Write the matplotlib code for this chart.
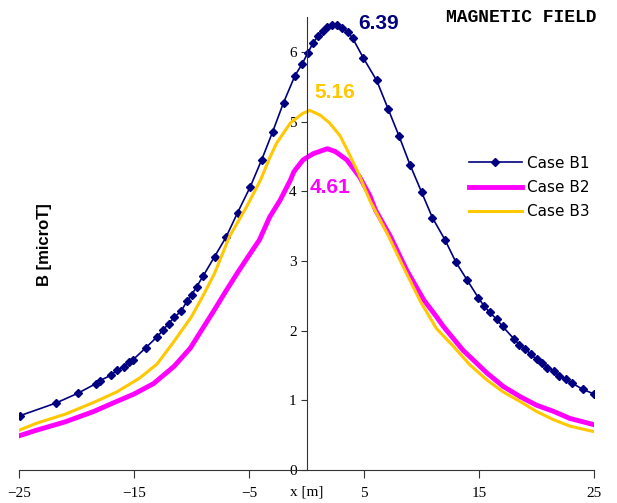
import numpy as np
import matplotlib
matplotlib.use('Agg')
import matplotlib.pyplot as plt

# Case B1 (markers)
x_b1 = [-24.9, -21.8, -19.9, -18.3, -18.0, -17.0, -16.5, -15.9, -15.4, -15.1,
        -14.0, -13.0, -12.45, -12.0, -11.5, -10.9, -10.4, -10.0, -9.55, -9.0,
        -8.0, -7.0, -6.0, -4.9, -3.9, -2.95, -2.0, -1.0, -0.4, 0.1,
        0.55, 1.0, 1.45, 1.8, 2.2, 2.65, 3.05, 3.6, 4.0, 4.95,
        6.1, 7.1, 8.05, 9.0, 10.0, 10.95, 12.05, 13.0, 13.95, 14.95,
        15.45, 15.95, 16.55, 17.05, 18.05, 18.5, 19.0, 19.5, 20.0, 20.5,
        20.95, 21.5, 21.95, 22.55, 23.05, 24.0, 25.0]
y_b1 = [0.78, 0.96, 1.10, 1.24, 1.28, 1.36, 1.43, 1.48, 1.55, 1.58,
        1.75, 1.91, 2.01, 2.10, 2.19, 2.28, 2.42, 2.51, 2.63, 2.78,
        3.06, 3.34, 3.69, 4.06, 4.45, 4.85, 5.27, 5.66, 5.82, 5.98,
        6.12, 6.23, 6.30, 6.35, 6.39, 6.38, 6.34, 6.28, 6.20, 5.91,
        5.59, 5.18, 4.79, 4.38, 3.99, 3.62, 3.30, 2.98, 2.73, 2.47,
        2.35, 2.26, 2.16, 2.06, 1.88, 1.80, 1.74, 1.66, 1.59, 1.53,
        1.47, 1.42, 1.35, 1.30, 1.25, 1.16, 1.09]

# Case B2
x_b2 = [-25.0, -23.5, -21.0, -18.5, -16.7, -15.0, -13.3, -11.5, -10.1, -9.3,
        -8.0, -7.0, -6.0, -5.0, -4.1, -3.2, -2.3, -1.4, -1.1, -0.3,
        0.6, 1.8, 2.5, 3.5, 4.6, 5.5, 6.0, 7.3, 8.7, 10.2,
        11.3, 11.9, 13.6, 15.7, 17.1, 18.6, 20.0, 21.5, 22.9, 25.0]
y_b2 = [0.49, 0.57, 0.69, 0.84, 0.97, 1.09, 1.24, 1.49, 1.75, 1.96,
        2.30, 2.57, 2.83, 3.08, 3.30, 3.63, 3.87, 4.16, 4.28, 4.45,
        4.54, 4.61, 4.57, 4.45, 4.21, 3.94, 3.73, 3.35, 2.87, 2.44,
        2.20, 2.06, 1.72, 1.39, 1.20, 1.05, 0.93, 0.84, 0.74, 0.65]

# Case B3
x_b3 = [-25.0, -23.5, -21.0, -18.5, -16.5, -14.5, -13.0, -11.5, -10.0, -9.0,
        -8.0, -6.7, -5.2, -4.0, -3.2, -2.6, -1.4, -0.3, 0.3, 1.2,
        2.0, 2.9, 3.4, 4.4, 5.5, 7.0, 8.4, 9.9, 11.3, 12.8,
        14.2, 15.7, 17.1, 18.6, 20.0, 21.5, 22.9, 25.0]
y_b3 = [0.57, 0.67, 0.80, 0.97, 1.12, 1.32, 1.52, 1.85, 2.20, 2.50,
        2.82, 3.35, 3.78, 4.16, 4.48, 4.69, 4.98, 5.12, 5.16, 5.09,
        4.98, 4.80, 4.64, 4.30, 3.87, 3.40, 2.92, 2.42, 2.03, 1.77,
        1.51, 1.29, 1.12, 0.98, 0.84, 0.72, 0.63, 0.55]

peaks = ['6.39', '5.16', '4.61']
xticks = [-25, -15, -5, 5, 15, 25]
yticks = [0, 1, 2, 3, 4, 5, 6]

navy = '#000080'
magenta = '#FF00FF'
gold = '#FFC800'

fig = plt.figure(figsize=(6.17, 5.03), dpi=100)
ax = fig.add_axes([19/617, 1-470/503, 575/617, 453/503])

ax.plot(x_b1, y_b1, color=navy, lw=1.2, marker='D', ms=4.5, label='Case B1')
ax.plot(x_b2, y_b2, color=magenta, lw=3.5, label='Case B2')
ax.plot(x_b3, y_b3, color=gold, lw=2.2, label='Case B3')

ax.set_xlim(-25, 25)
ax.set_ylim(0, 6.5)
ax.spines['top'].set_visible(False)
ax.spines['right'].set_visible(False)
ax.spines['left'].set_position(('data', 0))
ax.spines['left'].set_color('#333333')
ax.spines['bottom'].set_color('#333333')

ax.set_xticks(xticks)
ax.set_yticks(yticks)
ax.set_xticklabels([str(t).replace('-', '\u2212') for t in xticks], fontfamily='Liberation Serif', fontsize=11)
ax.set_yticklabels([str(t) for t in yticks], fontfamily='Liberation Serif', fontsize=11)
ax.tick_params(axis='x', direction='out', length=6, pad=6, colors='#333333', labelcolor='black')
ax.tick_params(axis='y', direction='out', length=4, pad=3, colors='#333333', labelcolor='black')

# axis label sits on the tick-label row, right under the y axis
ax.text(0, -0.31, 'x [m]', ha='center', va='center', fontfamily='Liberation Serif', fontsize=11)

ax.text(6.3, 6.40, peaks[0], color=navy, fontsize=15, fontweight='bold',
        fontfamily='Liberation Sans', ha='center', va='center')
ax.text(2.43, 5.42, peaks[1], color=gold, fontsize=15, fontweight='bold',
        fontfamily='Liberation Sans', ha='center', va='center')
ax.text(2.04, 4.05, peaks[2], color=magenta, fontsize=15, fontweight='bold',
        fontfamily='Liberation Sans', ha='center', va='center')

fig.text(521/617, 1-18/503, 'MAGNETIC FIELD', ha='center', va='center',
         fontfamily='Liberation Mono', fontweight='bold', fontsize=13)
fig.text(45/617, 1-245/503, 'B [microT]', rotation=90, ha='center', va='center',
         fontfamily='Liberation Sans', fontweight='bold', fontsize=12)

fig.legend(loc='upper left', bbox_to_anchor=(455/617, 1-142/503), frameon=False,
           handlelength=3.5, labelspacing=0.6, handletextpad=0.3,
           prop={'family': 'DejaVu Sans', 'size': 11})

fig.savefig('out.png', dpi=100)
